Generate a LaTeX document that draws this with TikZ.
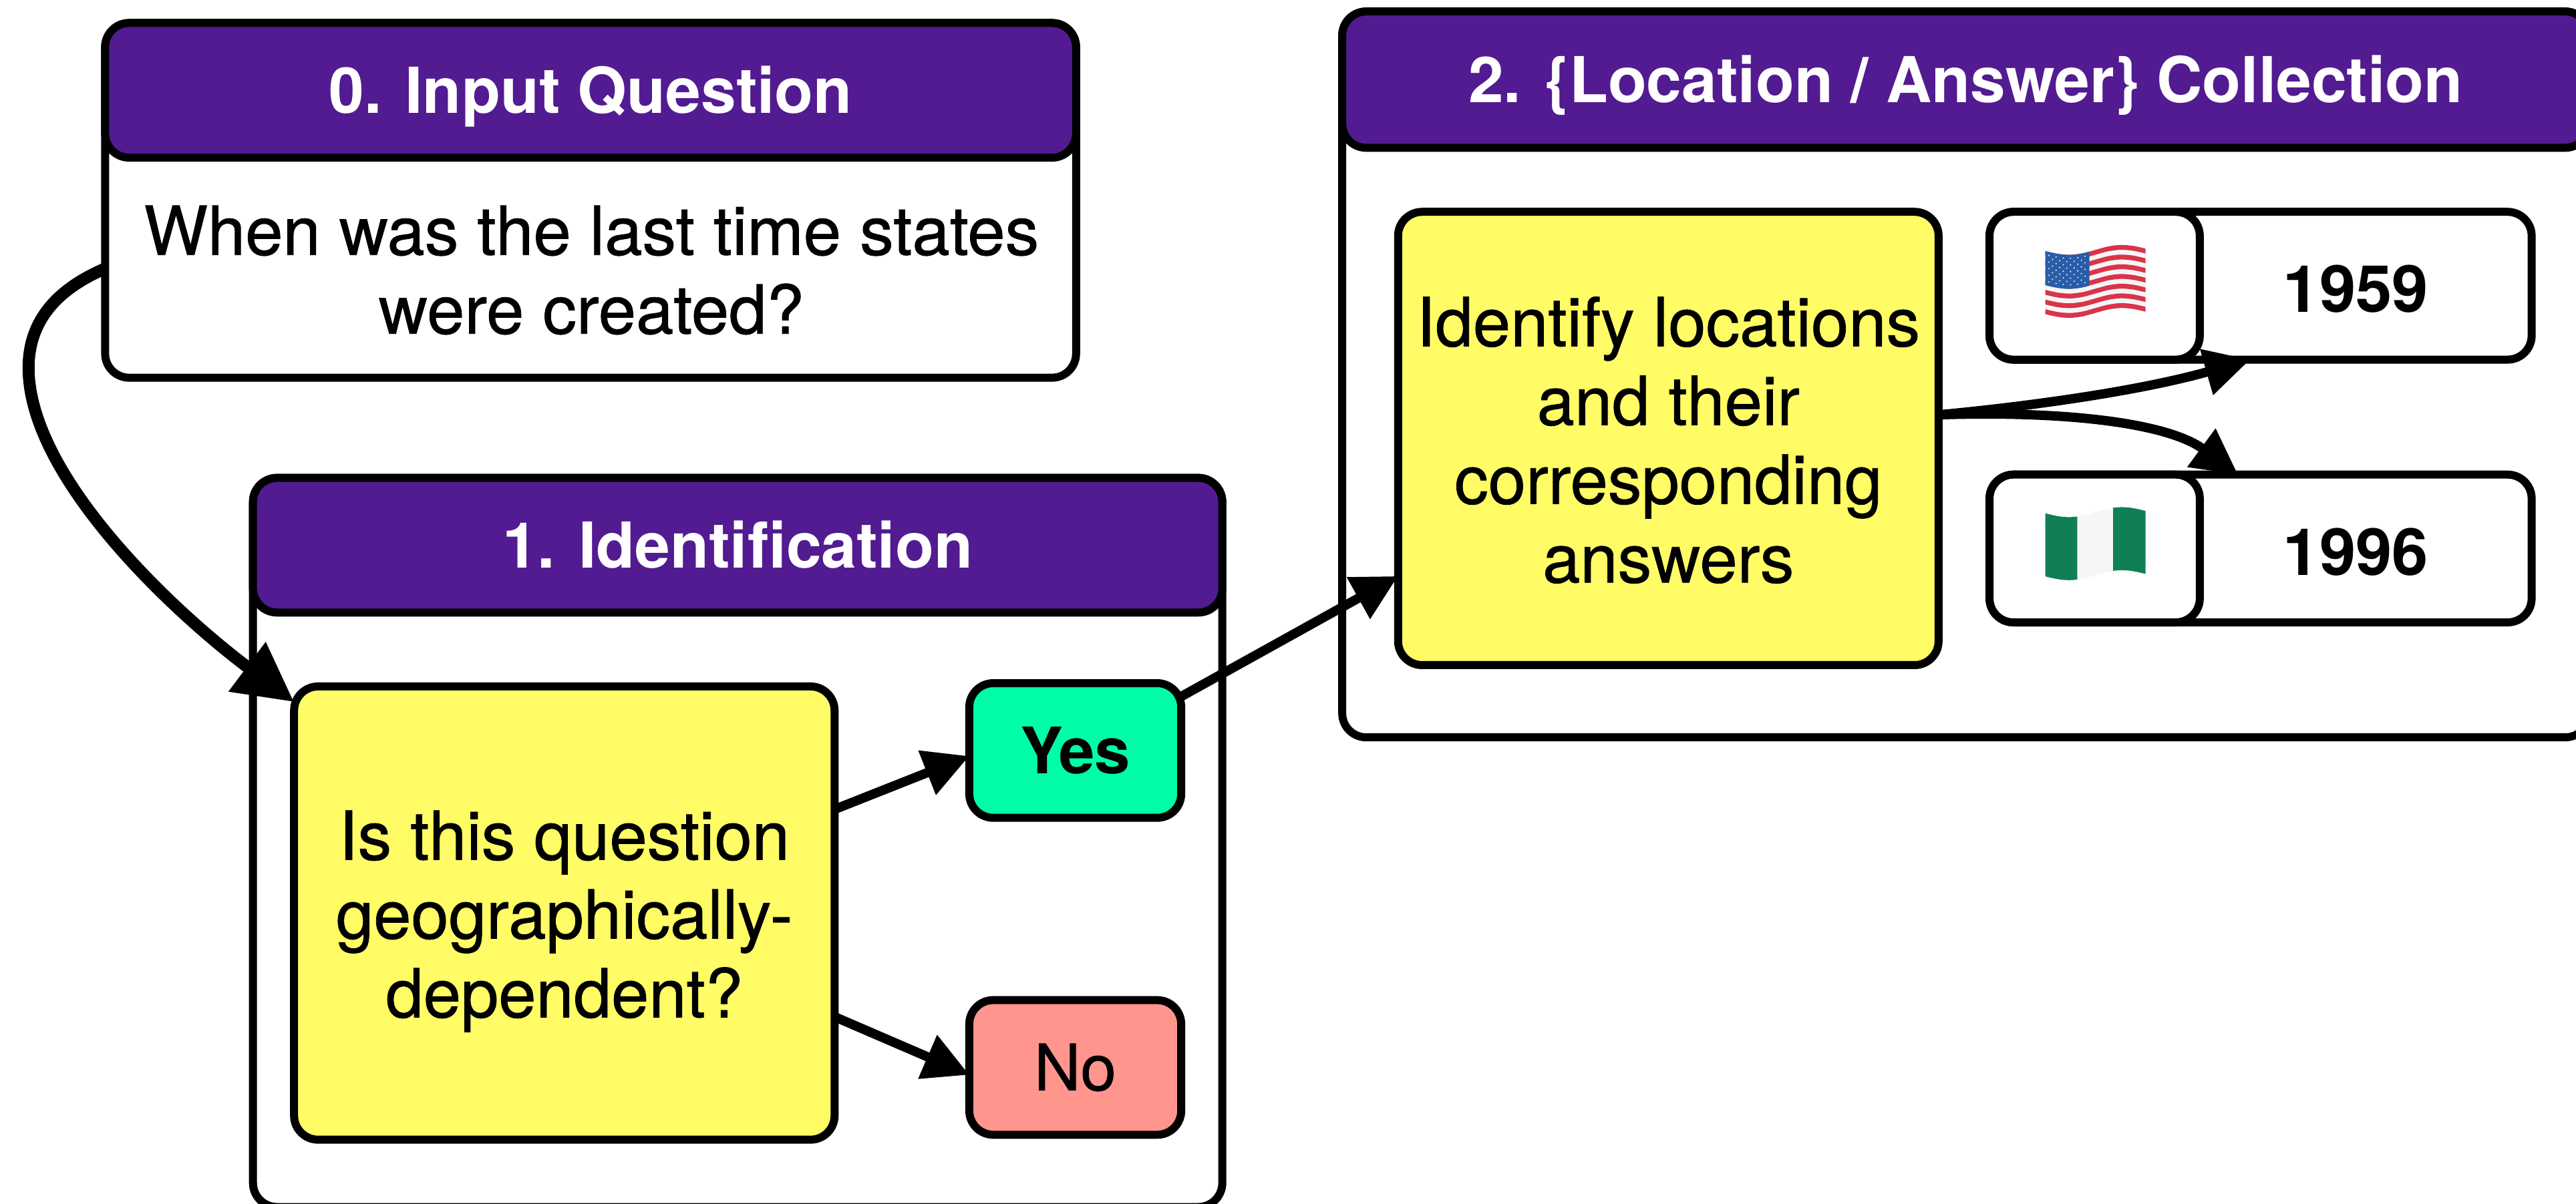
\documentclass[tikz,border=0pt]{standalone}
\usepackage{fontspec}
\setmainfont{TeX Gyre Heros}
\newfontfamily\medfont[FakeBold=0.8]{TeX Gyre Heros}
\usetikzlibrary{arrows.meta}
\definecolor{grape}{HTML}{521B91}
\definecolor{lemon}{HTML}{FFFC66}
\definecolor{seafoam}{HTML}{00FDA8}
\definecolor{salmon}{HTML}{FF968D}
\definecolor{usred}{HTML}{D9344A}
\definecolor{usblue}{HTML}{2A5CA8}
\definecolor{nggreen}{HTML}{117F55}
\def\uu{0.6148pt}
\tikzset{
  every node/.style={outer sep=0pt,inner sep=0pt},
  shapebox/.style={draw=black,line width=3pt,rounded corners=9pt},
  panel/.style={shapebox,fill=white},
  header/.style={shapebox,fill=grape,text=white,text height=17pt,text depth=0pt,font=\fontsize{23.7}{30}\selectfont\bfseries},
  task/.style={shapebox,fill=lemon},
  bodytext/.style={align=center,font=\medfont\fontsize{25.3}{29.5}\selectfont},
  answertext/.style={font=\fontsize{24.4}{28}\selectfont\bfseries},
  link/.style={line width=3.5pt,-{Triangle[length=17pt,width=17pt]}},
  biglink/.style={line width=4.5pt,-{Triangle[length=22pt,width=22pt]}},
  declare function={wv(\t)=2.64*sin(360*\t)-1.5*\t;}
}
\newcommand{\wband}[5]{\fill[#5] plot[domain=#1:#2,samples=9,smooth] ({61*\x},{38.4*#3+wv(\x)}) -- plot[domain=#2:#1,samples=9,smooth] ({61*\x},{38.4*#4+wv(\x)}) -- cycle;}
\begin{document}
\begin{tikzpicture}[x=\uu,y=-\uu]
\clip (0,0) rectangle (1568,733);
\useasboundingbox (0,0) rectangle (1568,733);
% panel 0
\node[panel,minimum width=591*\uu,minimum height=216*\uu] (b0) at (359.5,122) {};
\node[header,minimum width=591*\uu,minimum height=82*\uu] (h0) at (359.5,55) {0. Input Question};
\node[bodytext] (q0) at (360,164.5) {When was the last time states\\were created?};
% panel 1
\node[panel,minimum width=590*\uu,minimum height=444*\uu] (b1) at (449,513) {};
\node[header,minimum width=590*\uu,minimum height=82*\uu] (h1) at (449,332) {1. Identification};
\node[task,minimum width=329*\uu,minimum height=276*\uu] (y1) at (343.5,556) {};
\node[bodytext] (y1t) at (343.5,561) {Is this question\\geographically-\\dependent?};
\node[shapebox,fill=seafoam,minimum width=129*\uu,minimum height=82*\uu,font=\fontsize{24}{28}\selectfont\bfseries] (yes) at (654.5,457) {Yes};
\node[shapebox,fill=salmon,minimum width=129*\uu,minimum height=82*\uu,font=\medfont\fontsize{24}{28}\selectfont] (no) at (654.5,650) {No};
% panel 2
\node[panel,minimum width=759*\uu,minimum height=442*\uu] (b2) at (1196.5,228) {};
\node[header,minimum width=759*\uu,minimum height=83*\uu] (h2) at (1196.5,48.5) {2. \{Location / Answer\} Collection};
\node[task,minimum width=329*\uu,minimum height=276*\uu] (y2) at (1015.5,267) {};
\node[bodytext] (y2t) at (1015.5,268) {Identify locations\\and their\\corresponding\\answers};
\node[panel,minimum width=330*\uu,minimum height=90*\uu] (a1) at (1376,174) {};
\node[panel,minimum width=128*\uu,minimum height=90*\uu] (f1) at (1275,174) {};
\node[answertext] (t1) at (1434,176) {1959};
\node[panel,minimum width=330*\uu,minimum height=90*\uu] (a2) at (1376,334) {};
\node[panel,minimum width=128*\uu,minimum height=90*\uu] (f2) at (1275,334) {};
\node[answertext] (t2) at (1434,336) {1996};
% US flag
\begin{scope}[shift={(1245,152.9)}]
\wband{0}{1}{0}{1}{white!92!gray}
\foreach \i in {0,2,...,12}{\wband{0}{1}{\i/13}{(\i+1)/13}{usred}}
\wband{0}{0.44}{0}{0.54}{usblue}
\foreach \c in {0,...,5}{\foreach \r in {0,...,4}{
  \fill[white] ({61*(0.035+0.072*\c)},{38.4*(0.055+0.105*\r)+wv(0.035+0.072*\c)}) circle (0.45);}}
\foreach \c in {0,...,4}{\foreach \r in {0,...,3}{
  \fill[white] ({61*(0.071+0.072*\c)},{38.4*(0.107+0.105*\r)+wv(0.071+0.072*\c)}) circle (0.45);}}
\end{scope}
% Nigeria flag
\begin{scope}[shift={(1245,312.6)}]
\wband{0}{0.32}{0}{1}{nggreen}
\wband{0.32}{0.676}{0}{1}{white!93!gray}
\wband{0.676}{1}{0}{1}{nggreen}
\end{scope}
% connectors
\coordinate (bend) at (17.4,224);
\draw[biglink] (b0.188.6) .. controls (35,176) and (17.4,195) .. (bend) .. controls (17.4,290) and (105,372) .. (y1.142.7);
\draw[link] (y1.21.6) -- (yes.183.4);
\draw[link] (y1.-21) -- (no.184.6);
\draw[link] (yes.27.8) -- (y2.207.7);
\draw[link] (y2.5.5) .. controls (1250,246) and (1310,236) .. (a1.262);
\draw[link] (y2.5.5) .. controls (1260,250) and (1320,258) .. (a2.107);
\end{tikzpicture}
\end{document}
